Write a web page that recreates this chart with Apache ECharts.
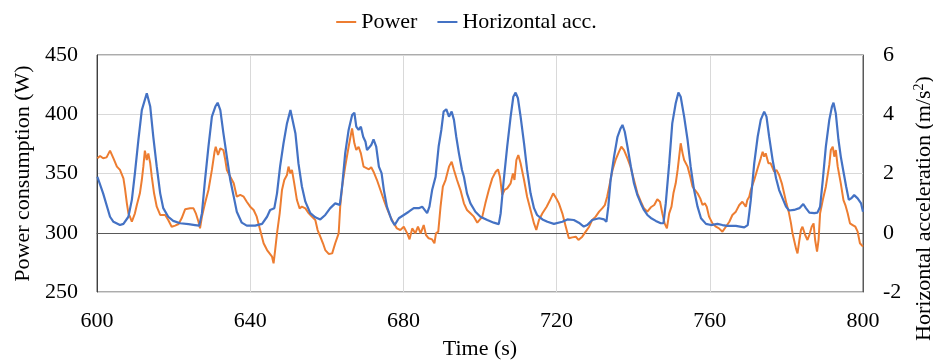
<!DOCTYPE html>
<html>
<head>
<meta charset="utf-8">
<script src="https://cdn.jsdelivr.net/npm/echarts@6/dist/echarts.min.js"></script>
<style>
html,body{margin:0;padding:0;background:#fff;}
#chart{width:933px;height:360px;}
</style>
</head>
<body>
<div id="chart"></div>
<script>
const xTicks = [600, 640, 680, 720, 760, 800];
const powerTicks = [250, 300, 350, 400, 450];
const accTicks = [-2, 0, 2, 4, 6];

const powerTime = [600.1,600.8,601.6,602.5,603.4,603.8,604.3,605.2,606.0,606.9,607.3,607.8,608.2,608.6,609.1,609.5,609.9,610.4,611.2,611.7,612.1,612.5,613.0,613.4,613.9,614.3,614.9,615.6,616.5,617.8,618.6,619.5,620.4,621.3,622.1,623.0,624.3,625.2,625.8,626.5,626.9,627.4,628.2,629.1,630.0,630.7,631.0,631.6,632.2,633.0,633.5,633.9,634.8,635.7,636.5,637.4,638.3,639.1,640.0,640.9,641.7,642.6,643.5,644.4,645.2,645.7,646.1,646.5,647.0,647.7,648.3,648.9,649.6,650.0,650.5,650.9,651.5,652.2,652.9,653.5,654.4,655.3,656.1,657.0,657.6,658.3,659.0,659.6,660.5,661.4,662.2,663.1,663.5,664.0,664.8,665.7,666.6,667.2,667.7,668.3,668.9,669.6,670.1,671.0,671.6,672.2,673.1,674.0,674.9,675.7,676.6,677.5,678.3,679.2,680.1,681.0,681.6,682.3,683.1,683.8,684.5,685.3,685.9,686.6,687.5,688.1,688.5,689.1,689.7,690.3,691.0,691.9,692.6,693.2,694.0,694.9,695.8,696.6,697.5,698.4,699.3,699.7,700.6,701.4,702.3,703.2,704.1,704.7,705.2,705.8,706.4,707.1,708.0,708.6,709.0,709.5,710.0,710.6,711.5,712.3,713.2,714.1,714.7,715.4,716.3,717.4,718.3,719.1,720.0,720.6,721.5,722.4,723.2,724.1,725.0,725.7,726.7,727.6,728.5,729.3,730.2,731.1,731.9,732.6,733.2,733.9,734.6,735.4,736.3,736.9,737.6,738.5,739.3,740.2,741.1,742.0,742.8,743.7,744.6,745.5,746.3,747.0,747.6,748.2,748.8,749.4,750.0,750.5,751.1,751.6,752.0,752.4,752.9,753.3,753.7,754.2,754.9,755.5,756.1,756.8,757.5,758.1,758.7,759.2,759.8,760.7,761.6,762.4,763.3,764.2,765.1,765.9,766.8,767.7,768.5,769.4,769.8,770.3,770.7,771.6,772.5,773.3,773.8,774.2,774.6,775.3,775.9,776.8,777.4,778.1,778.8,779.4,780.0,780.6,781.2,781.6,782.0,782.5,782.9,783.4,783.8,784.2,784.9,785.5,786.0,786.6,787.1,787.5,788.0,788.4,788.8,789.5,790.3,791.2,791.6,792.1,792.5,792.9,793.4,794.2,794.9,795.4,796.0,796.6,797.3,798.0,798.6,799.2,800.0];
const powerValue = [362.8,364.8,362.8,363.6,369.3,368.4,362.8,355.8,353.0,345.9,337.5,324.8,316.4,313.6,309.3,307.9,316.4,323.4,333.3,344.5,355.8,369.3,361.4,367.0,358.6,347.3,333.3,322.0,315.0,315.0,310.8,305.1,306.0,307.4,312.2,319.8,320.6,320.6,316.4,309.3,303.7,313.6,324.8,336.1,353.0,368.4,372.6,365.6,371.2,369.8,361.4,353.0,347.3,341.7,330.4,331.9,330.4,326.2,322.0,319.2,313.6,302.3,291.1,285.4,282.0,279.8,274.2,285.0,299.5,316.4,336.1,344.5,348.7,355.8,350.1,353.0,341.7,327.6,320.6,322.0,320.6,316.4,313.6,310.8,302.3,296.7,291.1,285.4,282.1,282.6,291.1,299.5,322.0,338.9,355.8,372.6,388.1,375.5,369.8,372.6,367.0,355.8,354.4,353.5,355.2,351.5,344.5,336.1,327.6,320.6,313.6,307.9,303.7,302.3,305.1,299.5,294.4,303.7,299.5,305.1,299.5,306.5,298.1,295.3,294.4,291.1,299.5,300.9,322.0,338.9,344.5,355.8,360.0,353.0,344.5,336.0,324.8,319.2,316.4,313.6,308.5,307.9,313.6,324.8,336.1,345.9,351.5,353.5,347.3,331.9,336.1,337.5,341.7,350.1,344.5,361.4,365.6,358.6,344.5,330.4,319.2,307.9,302.3,310.8,316.4,322.0,327.6,333.3,328.5,324.8,316.4,305.1,295.3,296.1,296.7,293.9,296.7,300.9,305.1,310.8,313.6,317.8,320.6,323.4,330.4,341.7,353.0,361.4,368.4,372.6,369.8,362.8,355.8,344.5,333.3,326.2,320.6,317.8,321.5,323.4,328.2,326.2,316.4,307.9,303.7,316.4,322.0,333.3,341.7,353.0,364.2,375.5,367.0,361.4,362.8,355.8,347.3,338.9,336.1,333.3,329.0,323.4,324.8,322.0,313.6,307.9,305.1,303.7,300.9,305.1,309.3,315.0,317.8,323.4,326.2,322.0,327.6,330.4,336.1,344.5,354.4,362.8,368.4,364.2,367.0,358.6,358.6,351.5,353.0,348.7,341.7,333.3,324.8,317.8,307.9,299.5,293.9,286.8,282.6,293.9,302.3,305.1,298.1,293.9,298.1,305.1,307.9,293.9,284.0,293.9,316.4,327.6,338.9,357.2,369.8,372.6,364.2,369.8,355.8,341.7,327.6,323.4,316.4,307.9,306.5,305.1,300.9,291.1,288.3];

const accTime = [600.1,601.6,603.4,604.3,606.0,606.9,608.2,609.1,609.9,610.8,611.7,613.0,613.9,614.7,615.6,616.5,617.3,618.6,619.9,621.7,623.9,625.6,626.7,627.4,628.2,629.1,630.0,630.9,631.5,632.2,633.0,633.9,634.8,635.7,636.5,637.8,639.1,641.3,643.1,644.4,645.2,646.3,647.0,647.8,648.7,649.6,650.5,650.9,651.8,652.6,653.5,654.4,655.7,657.0,658.3,659.6,660.9,662.2,663.4,664.0,664.8,665.7,666.6,667.2,667.7,668.3,668.9,669.5,670.1,670.5,671.0,671.6,672.2,672.9,673.6,674.3,674.9,675.7,676.9,677.7,678.8,680.1,681.4,682.7,684.0,684.9,686.2,686.8,687.5,688.4,689.2,689.9,690.5,691.2,691.9,692.6,693.2,693.8,694.5,695.3,695.8,696.6,697.5,698.8,700.1,701.9,703.6,704.9,705.4,706.2,707.1,708.0,708.7,709.3,709.9,710.6,711.5,712.3,713.2,714.1,714.9,716.3,717.6,719.3,721.5,722.8,724.5,725.8,727.1,728.0,729.3,731.1,732.4,733.0,733.5,734.1,735.0,735.9,736.7,737.2,737.8,738.5,739.4,740.2,741.1,742.0,742.8,743.7,744.6,745.9,747.2,747.9,748.5,749.4,750.2,751.1,751.8,752.4,753.3,754.2,755.0,755.9,756.8,757.7,759.0,760.3,762.0,763.3,764.6,766.8,769.0,769.4,769.9,770.3,770.7,771.6,772.5,773.3,774.2,774.8,775.5,776.4,777.3,778.1,779.0,779.9,780.7,782.0,783.4,784.4,785.1,786.0,787.3,788.1,788.8,789.5,790.3,791.2,791.9,792.3,792.9,793.6,794.2,794.9,795.6,796.3,796.9,797.7,798.6,799.5,800.0];
const accValue = [1.89,1.33,0.54,0.37,0.26,0.30,0.54,1.11,2.01,3.13,4.14,4.71,4.26,3.24,2.23,1.33,0.83,0.54,0.40,0.32,0.29,0.26,0.24,0.66,1.78,2.91,3.92,4.26,4.39,4.14,3.36,2.57,1.78,1.22,0.71,0.34,0.24,0.24,0.30,0.54,0.77,0.83,1.33,2.23,3.02,3.69,4.14,4.09,3.36,2.34,1.56,1.05,0.66,0.52,0.45,0.60,0.83,0.99,0.94,1.56,2.68,3.47,3.97,4.05,3.58,3.47,3.58,3.24,3.07,2.79,2.79,2.96,3.15,2.91,2.23,2.01,1.44,0.88,0.43,0.26,0.49,0.60,0.71,0.83,0.83,0.88,0.66,0.88,1.44,1.89,2.91,3.47,4.09,4.17,3.92,4.09,3.81,3.24,2.68,2.12,1.89,1.33,0.99,0.71,0.54,0.43,0.34,0.29,0.66,1.78,2.91,3.92,4.59,4.73,4.54,3.92,3.02,2.12,1.33,0.83,0.60,0.45,0.37,0.30,0.37,0.45,0.43,0.34,0.21,0.26,0.43,0.49,0.45,0.37,0.88,1.78,2.57,3.24,3.52,3.64,3.41,2.91,2.23,1.67,1.27,0.99,0.77,0.60,0.50,0.40,0.32,0.32,0.99,2.34,3.69,4.37,4.73,4.59,3.92,3.13,2.23,1.44,0.88,0.49,0.30,0.26,0.30,0.26,0.23,0.23,0.18,0.21,0.26,0.66,1.10,2.34,3.24,3.81,4.09,3.92,3.24,2.46,1.84,1.44,1.16,0.88,0.75,0.77,0.83,0.97,0.83,0.68,0.66,0.68,0.88,1.78,2.91,3.81,4.26,4.39,4.03,3.13,2.57,2.06,1.56,1.11,1.16,1.27,1.16,0.99,0.71];

const FONT = "'Liberation Serif', 'Times New Roman', serif";
const TXT = '#000000';

const powerData = powerTime.map((t, i) => [t, powerValue[i]]);
const accData = accTime.map((t, i) => [t, accValue[i]]);

const chart = echarts.init(document.getElementById('chart'), null, {renderer: 'canvas'});
chart.setOption({
  animation: false,
  backgroundColor: '#ffffff',
  textStyle: {fontFamily: FONT, color: TXT},
  legend: {
    top: 6,
    left: 'center',
    icon: 'rect',
    itemWidth: 20,
    itemHeight: 2,
    itemGap: 20,
    textStyle: {fontFamily: FONT, fontSize: 22, color: TXT},
    data: ['Power', 'Horizontal acc.']
  },
  grid: {
    left: 97, right: 70, top: 55, bottom: 68,
    outerBoundsMode: 'none',
    show: true, borderColor: '#595959', borderWidth: 1, backgroundColor: 'transparent'
  },
  xAxis: {
    type: 'value',
    min: xTicks[0], max: xTicks[xTicks.length - 1], interval: xTicks[1] - xTicks[0],
    name: 'Time (s)', nameLocation: 'middle', nameGap: 46,
    nameTextStyle: {fontFamily: FONT, fontSize: 22, color: TXT},
    axisLine: {show: true, lineStyle: {color: '#595959'}},
    axisTick: {show: false},
    axisLabel: {fontFamily: FONT, fontSize: 22, color: TXT, margin: 18},
    splitLine: {show: true, lineStyle: {color: '#d9d9d9', width: 1}}
  },
  yAxis: [{
    type: 'value',
    position: 'left',
    min: powerTicks[0], max: powerTicks[powerTicks.length - 1], interval: powerTicks[1] - powerTicks[0],
    name: 'Power consumption (W)', nameLocation: 'middle', nameGap: 58,
    nameTextStyle: {fontFamily: FONT, fontSize: 22, color: TXT},
    axisLine: {show: true, lineStyle: {color: '#404040'}},
    axisTick: {show: false},
    axisLabel: {fontFamily: FONT, fontSize: 22, color: TXT, margin: 19},
    splitLine: {show: true, lineStyle: {color: '#d9d9d9', width: 1}}
  }, {
    type: 'value',
    position: 'right',
    min: accTicks[0], max: accTicks[accTicks.length - 1], interval: accTicks[1] - accTicks[0],
    name: 'Horizontal acceleration (m/s{sup|2})', nameLocation: 'middle', nameGap: 46, nameRotate: 90,
    nameTextStyle: {fontFamily: FONT, fontSize: 22, color: TXT, padding: [0, 70, 0, 0],
      rich: {sup: {fontFamily: FONT, fontSize: 14, color: TXT, verticalAlign: 'top', lineHeight: 24}}},
    axisLine: {show: true, lineStyle: {color: '#595959'}},
    axisTick: {show: false},
    axisLabel: {fontFamily: FONT, fontSize: 22, color: TXT, margin: 20},
    splitLine: {show: false}
  }],
  series: [{
    name: 'Power', type: 'line', yAxisIndex: 0, data: powerData,
    showSymbol: false, symbol: 'none',
    lineStyle: {color: '#ED7D31', width: 2}, itemStyle: {color: '#ED7D31'}
  }, {
    name: 'Horizontal acc.', type: 'line', yAxisIndex: 1, data: accData,
    showSymbol: false, symbol: 'none',
    lineStyle: {color: '#4472C4', width: 2.2}, itemStyle: {color: '#4472C4'}
  }]
});
</script>
</body>
</html>
